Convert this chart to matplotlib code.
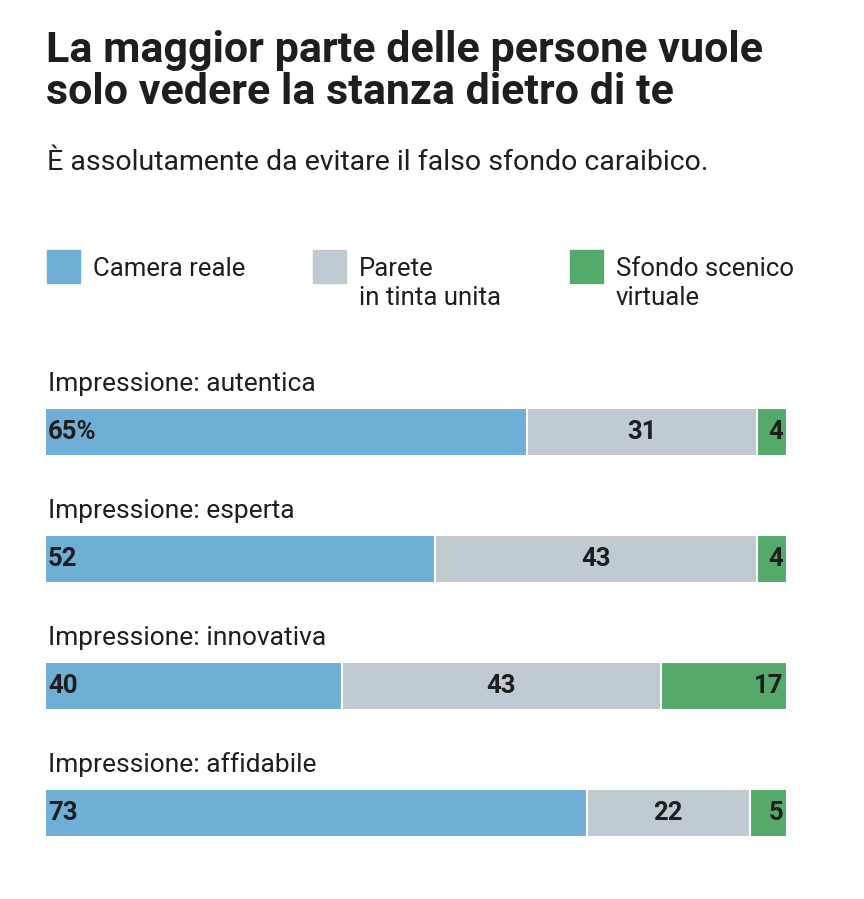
import numpy as np
import matplotlib
matplotlib.use("Agg")
import matplotlib.pyplot as plt

# data
categorie = ["Impressione: autentica", "Impressione: esperta",
             "Impressione: innovativa", "Impressione: affidabile"]
camera_reale = [65, 52, 40, 73]
parete_unita = [31, 43, 43, 22]
sfondo_virtuale = [4, 4, 17, 5]
serie_nomi = [["Camera reale"], ["Parete", "in tinta unita"], ["Sfondo scenico", "virtuale"]]
colori = ["#6FAFD6", "#BFCAD1", "#55AA6A"]
titolo = ["La maggior parte delle persone vuole", "solo vedere la stanza dietro di te"]
sottotitolo = "È assolutamente da evitare il falso sfondo caraibico."

plt.rcParams['font.family'] = ["Roboto", "DejaVu Sans"]
testo = "#1e1e1e"

W, H = 864, 899
fig = plt.figure(figsize=(W / 100, H / 100), dpi=100)
fig.patch.set_facecolor("white")

def px(x, y):
    return x / W, 1 - y / H

# title / subtitle
for j, riga in enumerate(titolo):
    fig.text(*px(46, 62 + 42 * j), riga, fontsize=31, fontweight="bold",
             color=testo, va="baseline")
fig.text(*px(47, 170), sottotitolo, fontsize=20.5, color=testo, va="baseline")

# legend
leg_x = [47, 313, 570]
for i in range(3):
    fig.patches.append(plt.Rectangle(px(leg_x[i], 283), 33 / W, 33 / H,
                                     transform=fig.transFigure, color=colori[i]))
    for j, riga in enumerate(serie_nomi[i]):
        fig.text(*px(leg_x[i] + 46, 276 + 29 * j), riga, fontsize=18.5,
                 color=testo, va="baseline")

# bars
ax = fig.add_axes([45 / W, 1 - 837 / H, (787 - 45) / W, (837 - 408) / H])
n = len(categorie)
h = 48 / 127
y = np.arange(n)
valori = np.array([camera_reale, parete_unita, sfondo_virtuale], dtype=float)
totali = valori.sum(axis=0)
quote = valori / totali
sinistra = np.zeros(n)
for k in range(3):
    ax.barh(y, quote[k], left=sinistra, height=h, color=colori[k],
            edgecolor="white", linewidth=1.5)
    for i in range(n):
        v = int(valori[k][i])
        lab = f"{v}%" if (k == 0 and i == 0) else str(v)
        if k == 0:
            ax.text(sinistra[i] + 0.004, y[i], lab, ha="left", va="center",
                    fontsize=18.5, color=testo, fontweight="bold")
        elif k == 1:
            ax.text(sinistra[i] + quote[k][i] / 2, y[i], lab, ha="center", va="center",
                    fontsize=18.5, color=testo, fontweight="bold")
        else:
            ax.text(1 - 0.005, y[i], lab, ha="right", va="center",
                    fontsize=18.5, color=testo, fontweight="bold")
    sinistra = sinistra + quote[k]

for i in range(n):
    ax.text(0.004, y[i] - h / 2 - 0.13, categorie[i], ha="left", va="baseline",
            fontsize=19, color=testo)

ax.set_xlim(0, 1)
ax.set_ylim(n - 1 + h / 2, -h / 2)
ax.axis("off")

fig.savefig("out.png", dpi=100, facecolor="white")
